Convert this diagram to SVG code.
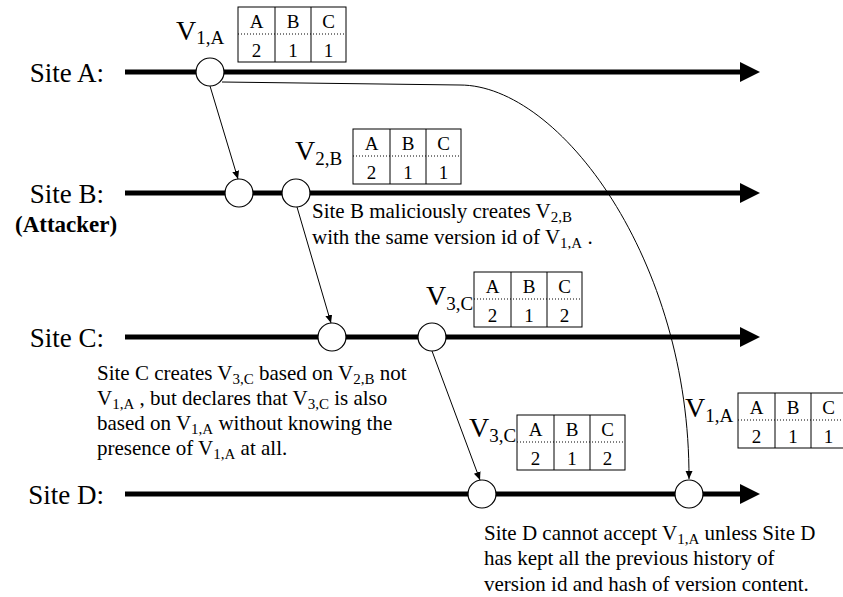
<svg xmlns="http://www.w3.org/2000/svg" width="843" height="597" viewBox="0 0 843 597" font-family="'Liberation Serif', 'Times New Roman', 'DejaVu Serif', serif">
<defs>
<style>
text{font-family:'Liberation Serif','Times New Roman','DejaVu Serif',serif;fill:#000}
.site{font-size:27px}
.att{font-size:23px;font-weight:bold}
.vl{font-size:28px}
.sub{font-size:19px}
.ann{font-size:21px}
.asub{font-size:15px}
.tt{font-size:19px;text-anchor:middle}
.tl{stroke:#000;stroke-width:5;fill:none}
.node{fill:#fff;stroke:#000;stroke-width:1.2}
.conn{stroke:#000;stroke-width:1;fill:none}
.tbl{fill:#fff;stroke:#000;stroke-width:1}
.dot{stroke:#000;stroke-width:1;stroke-dasharray:1,2}
</style>
<marker id="ah" markerUnits="userSpaceOnUse" markerWidth="9" markerHeight="8" refX="8" refY="3.5" orient="auto">
<path d="M0,0 L8,3.5 L0,7 z" fill="#000"/>
</marker>
<g id="tbl211">
<rect class="tbl" x="0" y="0" width="108" height="55"/>
<line class="conn" x1="37" y1="0" x2="37" y2="55"/>
<line class="conn" x1="73" y1="0" x2="73" y2="55"/>
<line class="dot" x1="0" y1="27" x2="108" y2="27"/>
<text class="tt" x="18.5" y="21">A</text>
<text class="tt" x="55" y="21">B</text>
<text class="tt" x="90.5" y="21">C</text>
<text class="tt" x="18.5" y="50">2</text>
<text class="tt" x="55" y="50">1</text>
<text class="tt" x="90.5" y="50">1</text>
</g>
<g id="tbl212">
<rect class="tbl" x="0" y="0" width="108" height="55"/>
<line class="conn" x1="37" y1="0" x2="37" y2="55"/>
<line class="conn" x1="73" y1="0" x2="73" y2="55"/>
<line class="dot" x1="0" y1="27" x2="108" y2="27"/>
<text class="tt" x="18.5" y="21">A</text>
<text class="tt" x="55" y="21">B</text>
<text class="tt" x="90.5" y="21">C</text>
<text class="tt" x="18.5" y="50">2</text>
<text class="tt" x="55" y="50">1</text>
<text class="tt" x="90.5" y="50">2</text>
</g>
</defs>
<rect x="0" y="0" width="843" height="597" fill="#fff"/>

<g id="timelines">
<text class="site" x="104" y="82" text-anchor="end">Site A:</text>
<line class="tl" x1="125" y1="72" x2="742" y2="72"/>
<polygon points="740,62 760,72 740,82" fill="#000"/>
<text class="site" x="104" y="203" text-anchor="end">Site B:</text>
<text class="att" x="15" y="232">(Attacker)</text>
<line class="tl" x1="125" y1="193" x2="742" y2="193"/>
<polygon points="740,183 760,193 740,203" fill="#000"/>
<text class="site" x="104" y="347" text-anchor="end">Site C:</text>
<line class="tl" x1="125" y1="337" x2="742" y2="337"/>
<polygon points="740,327 760,337 740,347" fill="#000"/>
<text class="site" x="104" y="504" text-anchor="end">Site D:</text>
<line class="tl" x1="125" y1="494" x2="742" y2="494"/>
<polygon points="740,484 760,494 740,504" fill="#000"/>
</g>

<g id="connectors">
<line class="conn" x1="210" y1="86" x2="238" y2="179" marker-end="url(#ah)"/>
<line class="conn" x1="297" y1="207" x2="331" y2="323" marker-end="url(#ah)"/>
<line class="conn" x1="432" y1="351" x2="480" y2="480" marker-end="url(#ah)"/>
<path class="conn" d="M222,82 L460,85 C560,85 690,260 689,479" marker-end="url(#ah)"/>
</g>

<g id="v1a">
<circle class="node" cx="210" cy="72" r="14"/>
<text class="vl" x="176" y="40">V<tspan class="sub" dy="4">1,A</tspan></text>
<use href="#tbl211" x="238" y="7"/>
</g>
<g id="b1">
<circle class="node" cx="239" cy="193" r="14"/>
</g>
<g id="v2b">
<circle class="node" cx="296" cy="193" r="14"/>
<text class="vl" x="295" y="160">V<tspan class="sub" dy="5">2,B</tspan></text>
<use href="#tbl211" x="353" y="129"/>
</g>
<g id="c1">
<circle class="node" cx="332" cy="337" r="14"/>
</g>
<g id="v3c">
<circle class="node" cx="432" cy="337" r="14"/>
<text class="vl" x="426" y="305">V<tspan class="sub" dy="5">3,C</tspan></text>
<use href="#tbl212" x="474" y="272"/>
</g>
<g id="d1">
<circle class="node" cx="482" cy="494" r="14"/>
<text class="vl" x="469" y="437">V<tspan class="sub" dy="5">3,C</tspan></text>
<use href="#tbl212" x="517" y="415"/>
</g>
<g id="d2">
<circle class="node" cx="689" cy="494" r="14"/>
<text class="vl" x="685" y="417">V<tspan class="sub" dy="5">1,A</tspan></text>
<use href="#tbl211" x="738" y="393"/>
</g>

<g id="notes">
<text class="ann" x="312" y="218">Site B maliciously creates V<tspan class="asub" dy="4">2,B</tspan></text>
<text class="ann" x="312" y="244">with the same version id of V<tspan class="asub" dy="4">1,A</tspan><tspan dy="-4"> .</tspan></text>

<text class="ann" x="97" y="380">Site C creates V<tspan class="asub" dy="4">3,C</tspan><tspan dy="-4"> based on V</tspan><tspan class="asub" dy="4">2,B</tspan><tspan dy="-4"> not</tspan></text>
<text class="ann" x="97" y="405">V<tspan class="asub" dy="4">1,A</tspan><tspan dy="-4"> , but declares that V</tspan><tspan class="asub" dy="4">3,C</tspan><tspan dy="-4"> is also</tspan></text>
<text class="ann" x="97" y="430">based on V<tspan class="asub" dy="4">1,A</tspan><tspan dy="-4"> without knowing the</tspan></text>
<text class="ann" x="97" y="455">presence of V<tspan class="asub" dy="4">1,A</tspan><tspan dy="-4"> at all.</tspan></text>

<text class="ann" x="484" y="540">Site D cannot accept V<tspan class="asub" dy="4">1,A</tspan><tspan dy="-4"> unless Site D</tspan></text>
<text class="ann" x="484" y="565">has kept all the previous history of</text>
<text class="ann" x="484" y="591">version id and hash of version content.</text>
</g>
</svg>
